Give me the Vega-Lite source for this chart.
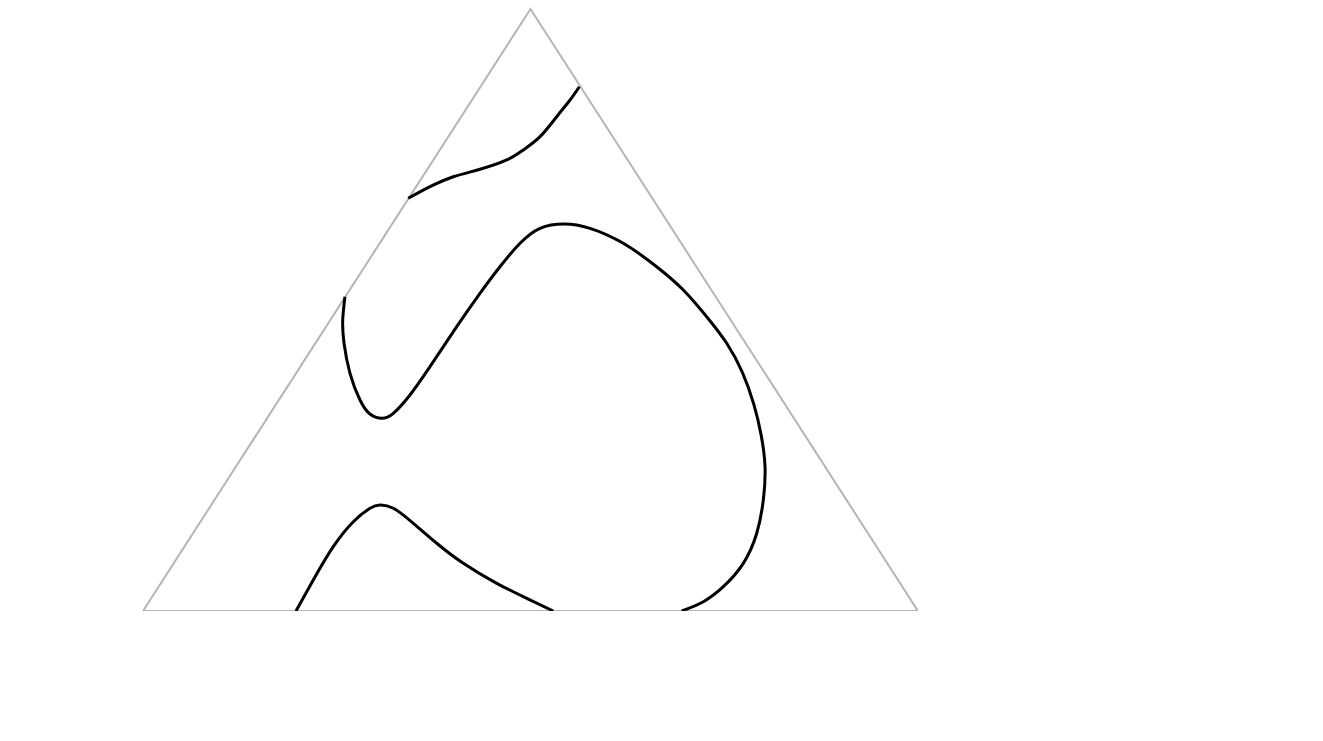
{
  "$schema": "https://vega.github.io/schema/vega-lite/v6.json",
  "width": 775,
  "height": 602,
  "autosize": {"type": "none"},
  "padding": {"left": 143, "top": 9, "right": 0, "bottom": 0},
  "background": "white",
  "config": {"view": {"stroke": null}},
  "datasets": {
    "frame": [
      {"order": 0, "x": 0, "y": 0},
      {"order": 1, "x": 0.5, "y": 1},
      {"order": 2, "x": 1, "y": 0},
      {"order": 3, "x": 0, "y": 0}
    ],
    "contours": [
      {"id": "c1", "order": 0, "x": 0.3423, "y": 0.6855},
      {"id": "c1", "order": 1, "x": 0.3703, "y": 0.7048},
      {"id": "c1", "order": 2, "x": 0.4004, "y": 0.7214},
      {"id": "c1", "order": 3, "x": 0.4348, "y": 0.7337},
      {"id": "c1", "order": 4, "x": 0.4693, "y": 0.7492},
      {"id": "c1", "order": 5, "x": 0.4907, "y": 0.7658},
      {"id": "c1", "order": 6, "x": 0.5123, "y": 0.7879},
      {"id": "c1", "order": 7, "x": 0.5338, "y": 0.8211},
      {"id": "c1", "order": 8, "x": 0.5510, "y": 0.8488},
      {"id": "c1", "order": 9, "x": 0.5630, "y": 0.8709},

      {"id": "c2", "order": 0, "x": 0.2606, "y": 0.5221},
      {"id": "c2", "order": 1, "x": 0.2577, "y": 0.4834},
      {"id": "c2", "order": 2, "x": 0.2594, "y": 0.4447},
      {"id": "c2", "order": 3, "x": 0.2671, "y": 0.3948},
      {"id": "c2", "order": 4, "x": 0.2800, "y": 0.3505},
      {"id": "c2", "order": 5, "x": 0.2929, "y": 0.3272},
      {"id": "c2", "order": 6, "x": 0.3080, "y": 0.3201},
      {"id": "c2", "order": 7, "x": 0.3230, "y": 0.3284},
      {"id": "c2", "order": 8, "x": 0.3445, "y": 0.3588},
      {"id": "c2", "order": 9, "x": 0.3703, "y": 0.4058},
      {"id": "c2", "order": 10, "x": 0.4048, "y": 0.4723},
      {"id": "c2", "order": 11, "x": 0.4348, "y": 0.5277},
      {"id": "c2", "order": 12, "x": 0.4606, "y": 0.5719},
      {"id": "c2", "order": 13, "x": 0.4865, "y": 0.6108},
      {"id": "c2", "order": 14, "x": 0.5123, "y": 0.6357},
      {"id": "c2", "order": 15, "x": 0.5432, "y": 0.6429},
      {"id": "c2", "order": 16, "x": 0.5768, "y": 0.6357},
      {"id": "c2", "order": 17, "x": 0.6197, "y": 0.6108},
      {"id": "c2", "order": 18, "x": 0.6628, "y": 0.5719},
      {"id": "c2", "order": 19, "x": 0.6972, "y": 0.5332},
      {"id": "c2", "order": 20, "x": 0.7273, "y": 0.4889},
      {"id": "c2", "order": 21, "x": 0.7532, "y": 0.4447},
      {"id": "c2", "order": 22, "x": 0.7735, "y": 0.3960},
      {"id": "c2", "order": 23, "x": 0.7880, "y": 0.3440},
      {"id": "c2", "order": 24, "x": 0.7975, "y": 0.2930},
      {"id": "c2", "order": 25, "x": 0.8026, "y": 0.2397},
      {"id": "c2", "order": 26, "x": 0.8004, "y": 0.1844},
      {"id": "c2", "order": 27, "x": 0.7919, "y": 0.1291},
      {"id": "c2", "order": 28, "x": 0.7746, "y": 0.0792},
      {"id": "c2", "order": 29, "x": 0.7488, "y": 0.0404},
      {"id": "c2", "order": 30, "x": 0.7230, "y": 0.0154},
      {"id": "c2", "order": 31, "x": 0.6951, "y": 0.0},

      {"id": "c3", "order": 0, "x": 0.1974, "y": 0.0},
      {"id": "c3", "order": 1, "x": 0.2197, "y": 0.0515},
      {"id": "c3", "order": 2, "x": 0.2455, "y": 0.1068},
      {"id": "c3", "order": 3, "x": 0.2714, "y": 0.1483},
      {"id": "c3", "order": 4, "x": 0.2929, "y": 0.1706},
      {"id": "c3", "order": 5, "x": 0.3058, "y": 0.1761},
      {"id": "c3", "order": 6, "x": 0.3230, "y": 0.1706},
      {"id": "c3", "order": 7, "x": 0.3488, "y": 0.1457},
      {"id": "c3", "order": 8, "x": 0.3790, "y": 0.1125},
      {"id": "c3", "order": 9, "x": 0.4133, "y": 0.0792},
      {"id": "c3", "order": 10, "x": 0.4564, "y": 0.0460},
      {"id": "c3", "order": 11, "x": 0.4951, "y": 0.0211},
      {"id": "c3", "order": 12, "x": 0.5294, "y": 0.0}
    ]
  },
  "layer": [
    {
      "data": {"name": "frame"},
      "mark": {"type": "line", "color": "#b5b5b5", "strokeWidth": 2, "strokeJoin": "miter", "clip": false},
      "encoding": {
        "x": {"field": "x", "type": "quantitative", "scale": {"domain": [0, 1], "nice": false, "zero": false}, "axis": null},
        "y": {"field": "y", "type": "quantitative", "scale": {"domain": [0, 1], "nice": false, "zero": false}, "axis": null},
        "order": {"field": "order", "type": "quantitative"}
      }
    },
    {
      "data": {"name": "contours"},
      "mark": {"type": "line", "color": "black", "strokeWidth": 3, "interpolate": "natural", "clip": false},
      "encoding": {
        "x": {"field": "x", "type": "quantitative", "scale": {"domain": [0, 1], "nice": false, "zero": false}, "axis": null},
        "y": {"field": "y", "type": "quantitative", "scale": {"domain": [0, 1], "nice": false, "zero": false}, "axis": null},
        "detail": {"field": "id", "type": "nominal"},
        "order": {"field": "order", "type": "quantitative"}
      }
    }
  ]
}
